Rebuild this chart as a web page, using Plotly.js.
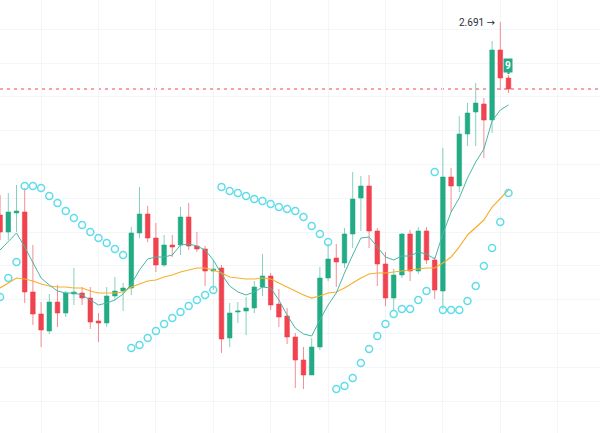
<!DOCTYPE html>
<html>
<head>
<meta charset="utf-8">
<script src="https://cdn.plot.ly/plotly-3.0.1.min.js"></script>
<style>html,body{margin:0;padding:0;background:#fff;}#chart{width:600px;height:433px;}</style>
</head>
<body>
<div id="chart"></div>
<script>
// bar index (one per candle)
const bars = [0,1,2,3,4,5,6,7,8,9,10,11,12,13,14,15,16,17,18,19,20,21,22,23,24,25,26,27,28,29,30,31,32,33,34,35,36,37,38,39,40,41,42,43,44,45,46,47,48,49,50,51,52,53,54,55,56,57,58,59,60,61,62];

const openP  = [2.498,2.481,2.500,2.501,2.421,2.399,2.382,2.411,2.400,2.419,2.420,2.415,2.392,2.390,2.417,2.422,2.425,2.480,2.499,2.475,2.448,2.468,2.468,2.496,2.467,2.464,2.442,2.445,2.375,2.401,2.402,2.405,2.426,2.437,2.409,2.397,2.376,2.353,2.338,2.366,2.435,2.455,2.450,2.479,2.515,2.527,2.482,2.449,2.415,2.438,2.479,2.442,2.482,2.453,2.422,2.536,2.527,2.579,2.601,2.609,2.593,2.663,2.635];
const highP  = [2.518,2.520,2.528,2.525,2.468,2.411,2.419,2.428,2.422,2.445,2.426,2.426,2.400,2.426,2.436,2.430,2.486,2.526,2.507,2.490,2.478,2.478,2.506,2.510,2.481,2.467,2.453,2.448,2.410,2.411,2.416,2.432,2.459,2.440,2.424,2.405,2.380,2.366,2.375,2.446,2.469,2.469,2.485,2.541,2.537,2.538,2.485,2.461,2.444,2.480,2.483,2.486,2.486,2.456,2.565,2.545,2.597,2.610,2.630,2.615,2.672,2.691,2.638];
const lowP   = [2.473,2.473,2.481,2.410,2.388,2.366,2.379,2.386,2.396,2.408,2.408,2.384,2.371,2.386,2.413,2.402,2.418,2.475,2.471,2.441,2.446,2.456,2.458,2.463,2.461,2.427,2.423,2.360,2.366,2.390,2.378,2.400,2.417,2.403,2.386,2.369,2.325,2.324,2.338,2.363,2.432,2.426,2.445,2.465,2.482,2.465,2.427,2.407,2.403,2.435,2.432,2.439,2.449,2.414,2.404,2.501,2.521,2.567,2.567,2.555,2.580,2.623,2.620];
const closeP = [2.481,2.501,2.502,2.421,2.399,2.383,2.411,2.400,2.420,2.421,2.415,2.391,2.390,2.417,2.422,2.425,2.480,2.499,2.475,2.448,2.468,2.466,2.496,2.467,2.464,2.442,2.444,2.374,2.400,2.402,2.405,2.426,2.437,2.408,2.396,2.376,2.353,2.338,2.366,2.435,2.454,2.451,2.479,2.514,2.527,2.482,2.449,2.415,2.438,2.479,2.442,2.482,2.453,2.423,2.536,2.527,2.579,2.600,2.610,2.593,2.663,2.635,2.624];

// short moving average (teal)
const maShort = [2.463,2.471,2.480,2.466,2.451,2.435,2.428,2.422,2.420,2.420,2.418,2.413,2.408,2.410,2.413,2.419,2.429,2.443,2.454,2.456,2.456,2.458,2.468,2.469,2.467,2.463,2.453,2.439,2.427,2.421,2.418,2.421,2.426,2.425,2.413,2.398,2.385,2.379,2.377,2.393,2.408,2.420,2.440,2.458,2.475,2.476,2.466,2.456,2.453,2.457,2.457,2.461,2.459,2.454,2.479,2.501,2.515,2.535,2.551,2.564,2.592,2.603,2.608];
// long moving average (orange)
const maLong = [2.425,2.430,2.435,2.434,2.432,2.429,2.427,2.426,2.426,2.425,2.425,2.422,2.420,2.420,2.420,2.421,2.426,2.429,2.432,2.433,2.436,2.438,2.441,2.443,2.445,2.445,2.443,2.440,2.436,2.435,2.434,2.434,2.435,2.434,2.430,2.426,2.422,2.418,2.415,2.417,2.420,2.421,2.425,2.430,2.435,2.439,2.440,2.440,2.441,2.442,2.443,2.444,2.445,2.445,2.450,2.456,2.466,2.478,2.486,2.493,2.506,2.515,2.523];
// parabolic SAR dots
const sar = [2.416,2.435,2.451,2.527,2.527,2.525,2.517,2.510,2.502,2.495,2.488,2.481,2.475,2.470,2.464,2.458,2.365,2.368,2.375,2.382,2.389,2.395,2.401,2.407,2.413,2.418,2.423,2.526,2.522,2.520,2.517,2.514,2.512,2.509,2.506,2.504,2.502,2.496,2.487,2.479,2.471,2.324,2.327,2.335,2.350,2.364,2.377,2.389,2.399,2.404,2.404,2.413,2.422,2.541,2.403,2.403,2.403,2.412,2.427,2.447,2.465,2.491,2.520];

const highLabel = "2.691";
const countLabel = "9";

const GREEN = '#22ab85', RED = '#f0434f';

const traces = [
  {
    type: 'candlestick', x: bars, open: openP, high: highP, low: lowP, close: closeP,
    increasing: {line: {color: 'rgba(34,171,133,0.55)', width: 1}, fillcolor: GREEN},
    decreasing: {line: {color: 'rgba(240,67,79,0.6)', width: 1}, fillcolor: RED},
    whiskerwidth: 0, hoverinfo: 'skip', showlegend: false
  },
  {type: 'scatter', mode: 'lines', x: bars, y: maLong, line: {color: '#f5b12a', width: 1.2}, hoverinfo: 'skip', showlegend: false},
  {type: 'scatter', mode: 'lines', x: bars, y: maShort, line: {color: '#45b8a6', width: 1}, hoverinfo: 'skip', showlegend: false},
  {type: 'scatter', mode: 'markers', x: bars, y: sar,
   marker: {symbol: 'circle-open', size: 7, color: '#5fdcea', line: {width: 1.5, color: '#5fdcea'}},
   hoverinfo: 'skip', showlegend: false}
];

const lastIdx = bars.length - 1;
const hiIdx = highP.indexOf(Math.max.apply(null, highP));

const layout = {
  width: 600, height: 433, autosize: false,
  margin: {l: 0, r: 0, t: 0, b: 0, pad: 0},
  paper_bgcolor: '#ffffff', plot_bgcolor: '#ffffff',
  boxgap: 0.2,
  font: {family: 'Roboto, "DejaVu Sans", sans-serif'},
  xaxis: {
    range: [-0.012, 73.16], showticklabels: false, ticks: '', zeroline: false, showline: false,
    showgrid: true, gridcolor: '#f3f6f8', gridwidth: 1, tick0: 5, dtick: 7,
    rangeslider: {visible: false}, fixedrange: true
  },
  yaxis: {
    range: [2.280, 2.713], showticklabels: false, ticks: '', zeroline: false, showline: false,
    showgrid: true, gridcolor: '#f3f6f8', gridwidth: 1, tick0: 2.481, dtick: 0.0338, fixedrange: true
  },
  shapes: [
    {type: 'line', xref: 'paper', x0: 0, x1: 1, yref: 'y', y0: closeP[lastIdx], y1: closeP[lastIdx],
     line: {color: RED, width: 1, dash: '3px,4px'}, layer: 'below'}
  ],
  annotations: [
    {x: bars[hiIdx], y: highP[hiIdx], xref: 'x', yref: 'y', text: highLabel + ' \u2192',
     showarrow: false, xanchor: 'right', yanchor: 'middle', xshift: -3,
     font: {size: 10, color: '#2a2e39', family: 'Roboto, "DejaVu Sans", sans-serif'}},
    {x: bars[lastIdx], y: highP[lastIdx], xref: 'x', yref: 'y', text: '<b>' + countLabel + '</b>',
     showarrow: true, arrowhead: 0, arrowwidth: 2, arrowcolor: GREEN, ax: 0, ay: -10, standoff: 1,
     bgcolor: GREEN, borderpad: 1, font: {size: 10, color: '#ffffff', family: 'Roboto, sans-serif'}}
  ]
};

Plotly.newPlot('chart', traces, layout, {displayModeBar: false, staticPlot: true});
</script>
</body>
</html>
